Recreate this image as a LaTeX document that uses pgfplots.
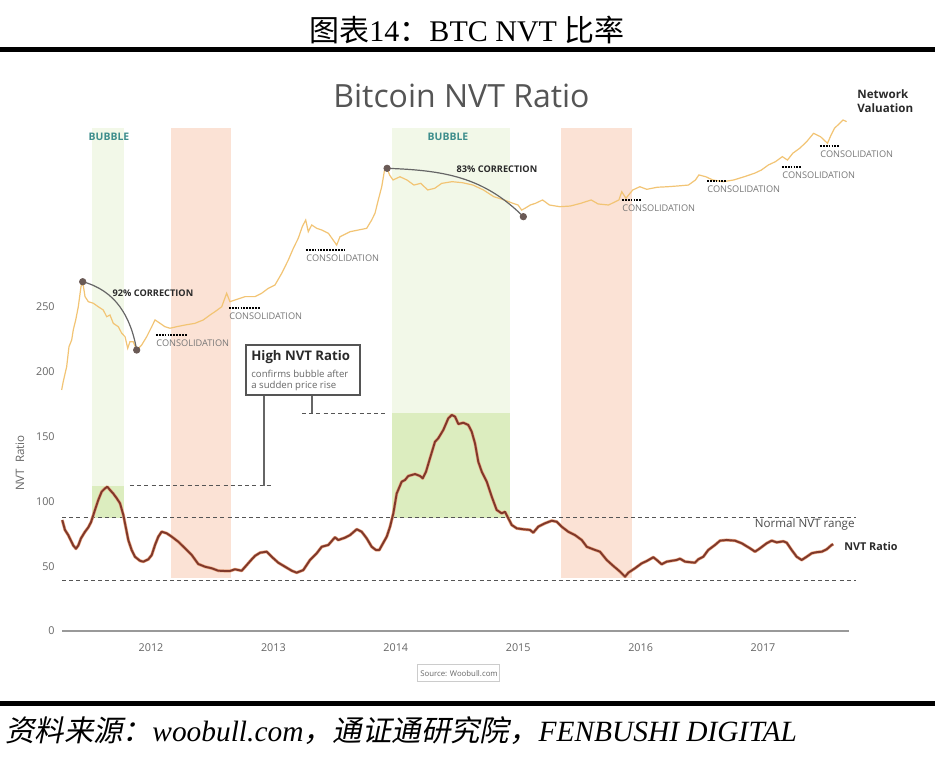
\documentclass[border=0pt]{standalone}
\usepackage{pgfplots}
\pgfplotsset{compat=1.18}
\usepackage{fontspec}
\setmainfont{Open Sans}
\newfontfamily\tnr{Liberation Serif}
\newfontfamily\cjk{Noto Sans CJK SC}
\newfontfamily\cjkit{Noto Sans CJK SC}[FakeSlant=0.2]
\newcommand{\fs}[1]{\fontsize{#1bp}{#1bp}\selectfont}
\definecolor{greenpale}{HTML}{F2F8E8}
\definecolor{greendark}{HTML}{DCEDBF}
\definecolor{bandred}{HTML}{FBE2D5}
\definecolor{nvtc}{HTML}{80382A}
\definecolor{nvtglow}{HTML}{E8A582}
\definecolor{valc}{HTML}{F2C474}
\definecolor{tealc}{HTML}{3E8E8C}
\definecolor{tickgray}{HTML}{666666}
\definecolor{axisgray}{HTML}{999999}
\definecolor{darkc}{HTML}{2A2A2A}
\definecolor{dashc}{HTML}{555555}
\definecolor{dotc}{HTML}{6A5A56}
\definecolor{consc}{HTML}{777777}
\begin{document}
\begin{tikzpicture}
\path[use as bounding box, fill=white] (0,0) rectangle (467.5bp,379.5bp);
\begin{axis}[
  scale only axis, width=393.5bp, height=285.5bp,
  at={(31bp,64bp)}, anchor=south west,
  xmin=2011.2729, xmax=2017.7026, ymin=0, ymax=440.59,
  clip=false,
  axis x line*=bottom, axis y line*=left,
  x axis line style={draw=axisgray, line width=0.75bp, -},
  y axis line style={draw=none},
  major tick length=0pt,
  xtick={2012,2013,2014,2015,2016,2017},
  ytick={0,50,100,150,200,250},
  /pgf/number format/assume math mode=true,
  /pgf/number format/1000 sep={},
  xticklabel style={anchor=center, yshift=-8.5bp, font=\fs{5.4}, text=tickgray},
  yticklabel style={anchor=east, inner sep=0pt, xshift=-3.5bp, font=\fs{5.4}, text=tickgray},
]
% bands
\addplot[fill=greenpale, draw=none] coordinates {(2011.522,111.9) (2011.779,111.9) (2011.779,388.1) (2011.522,388.1)} --cycle;
\addplot[fill=greendark, draw=none] coordinates {(2011.522,87.2) (2011.779,87.2) (2011.779,111.9) (2011.522,111.9)} --cycle;
\addplot[fill=bandred, draw=none] coordinates {(2012.167,41) (2012.654,41) (2012.654,388.1) (2012.167,388.1)} --cycle;
\addplot[fill=greenpale, draw=none] coordinates {(2013.973,168.2) (2014.933,168.2) (2014.933,388.1) (2013.973,388.1)} --cycle;
\addplot[fill=greendark, draw=none] coordinates {(2013.973,87.2) (2014.933,87.2) (2014.933,168.2) (2013.973,168.2)} --cycle;
\addplot[fill=bandred, draw=none] coordinates {(2015.350,41) (2015.926,41) (2015.926,388.1) (2015.350,388.1)} --cycle;
% normal range lines
\addplot[dashc, line width=0.5bp, dash pattern=on 2bp off 1.6bp] coordinates {(2011.273,87.5) (2017.760,87.5)};
\addplot[dashc, line width=0.5bp, dash pattern=on 2bp off 1.6bp] coordinates {(2011.273,39.3) (2017.760,39.3)};
% high NVT levels
\addplot[dashc, line width=0.5bp, dash pattern=on 2bp off 1.6bp] coordinates {(2011.828,112) (2012.997,112)};
\addplot[dashc, line width=0.5bp, dash pattern=on 2bp off 1.6bp] coordinates {(2013.234,168.2) (2013.916,168.2)};
% network valuation
\addplot[valc, line width=0.6bp] table {
2011.270 186.0
2011.283 192.4
2011.311 203.9
2011.330 219.4
2011.352 224.5
2011.365 232.3
2011.385 240.0
2011.406 250.2
2011.428 265.7
2011.442 269.5
2011.461 258.0
2011.488 254.1
2011.529 252.9
2011.569 250.2
2011.610 247.7
2011.638 242.5
2011.665 243.8
2011.692 237.4
2011.733 234.8
2011.761 229.7
2011.788 227.1
2011.810 218.1
2011.828 223.2
2011.855 223.2
2011.883 216.8
2011.924 220.7
2011.965 227.1
2012.006 234.8
2012.033 240.0
2012.074 237.4
2012.114 234.8
2012.155 233.6
2012.210 234.8
2012.278 236.1
2012.359 237.4
2012.427 240.0
2012.482 243.8
2012.523 246.4
2012.578 250.2
2012.618 260.6
2012.645 254.1
2012.686 255.4
2012.768 258.0
2012.850 258.0
2012.904 260.6
2012.958 264.4
2013.013 267.0
2013.068 276.0
2013.122 286.3
2013.163 295.3
2013.203 303.0
2013.236 312.0
2013.264 317.1
2013.285 308.1
2013.313 313.3
2013.354 310.7
2013.395 309.4
2013.449 306.9
2013.517 297.8
2013.544 304.2
2013.626 308.1
2013.694 309.4
2013.762 310.7
2013.803 317.1
2013.830 322.3
2013.857 332.6
2013.885 342.8
2013.908 355.7
2013.929 357.0
2013.949 351.9
2013.977 348.0
2014.034 350.5
2014.091 348.0
2014.148 344.1
2014.204 345.4
2014.261 340.3
2014.318 341.6
2014.375 345.4
2014.460 346.7
2014.545 345.9
2014.630 344.1
2014.716 340.3
2014.801 335.1
2014.886 332.6
2014.957 330.0
2014.999 328.7
2015.028 324.8
2015.056 326.2
2015.099 328.7
2015.141 330.0
2015.199 332.6
2015.255 328.7
2015.340 327.4
2015.426 327.9
2015.511 330.0
2015.596 332.6
2015.653 329.5
2015.738 328.7
2015.823 332.6
2015.846 339.0
2015.880 333.9
2015.936 340.3
2015.994 342.8
2016.050 340.8
2016.136 342.4
2016.221 342.8
2016.306 343.4
2016.391 344.1
2016.448 348.0
2016.476 351.9
2016.533 350.5
2016.590 348.0
2016.675 346.7
2016.760 348.0
2016.846 350.5
2016.931 353.2
2016.987 355.7
2017.044 359.6
2017.101 362.1
2017.158 366.0
2017.200 363.4
2017.243 368.6
2017.300 372.5
2017.356 377.5
2017.413 384.0
2017.470 381.4
2017.527 376.3
2017.556 382.7
2017.584 387.9
2017.626 391.7
2017.654 394.3
2017.683 393.0
};
% NVT ratio
\pgfplotstableread{
x y
2011.275 85.6
2011.297 78
2011.324 74
2011.365 66
2011.387 63.5
2011.406 66
2011.428 71.5
2011.461 76.6
2011.488 80
2011.510 84
2011.529 89.5
2011.542 93.4
2011.569 101
2011.597 107.5
2011.624 110
2011.643 111.3
2011.665 108.8
2011.692 106
2011.720 102.4
2011.747 98.5
2011.774 89.5
2011.793 80.5
2011.815 70
2011.842 62.5
2011.869 57.3
2011.910 54.2
2011.937 53.5
2011.978 55.3
2012.006 58.6
2012.033 66.4
2012.060 72.8
2012.087 76.6
2012.128 75.4
2012.169 72.8
2012.223 68.9
2012.278 63.8
2012.333 58.6
2012.386 51.7
2012.441 49.6
2012.496 48.4
2012.550 46.5
2012.605 46.3
2012.645 46.3
2012.686 47.6
2012.741 46.5
2012.782 50.9
2012.823 55.3
2012.850 58
2012.891 60.4
2012.945 61.2
2012.986 57.3
2013.040 52.7
2013.095 49.6
2013.150 46.5
2013.190 45
2013.244 47
2013.299 54.8
2013.354 60
2013.395 65
2013.449 66.4
2013.503 72.3
2013.530 70.2
2013.585 72
2013.626 74
2013.681 78.5
2013.721 76.6
2013.762 71.5
2013.803 65
2013.838 62.5
2013.865 62.5
2013.898 68.1
2013.926 72.8
2013.953 80.5
2013.980 90.8
2014.007 106
2014.048 115.2
2014.075 116.5
2014.102 119.6
2014.157 121.1
2014.198 119.6
2014.220 117.8
2014.247 123
2014.279 133.2
2014.320 146
2014.347 148.7
2014.388 155.1
2014.429 164.1
2014.457 166.7
2014.484 165.4
2014.511 159.7
2014.552 160.7
2014.592 159
2014.620 153.8
2014.647 144.8
2014.674 130.6
2014.702 123
2014.743 115.2
2014.784 103.6
2014.824 93.4
2014.865 90.8
2014.892 92
2014.919 87
2014.947 81.8
2014.988 79.2
2015.042 78.5
2015.096 78
2015.123 75.9
2015.164 80.5
2015.219 83.1
2015.274 85.1
2015.315 84.3
2015.355 80.5
2015.409 76.6
2015.464 74
2015.519 70.2
2015.560 65
2015.614 63
2015.668 61.2
2015.723 54.8
2015.777 50.2
2015.832 45.8
2015.873 41.9
2015.900 45
2015.954 48.4
2016.009 52.2
2016.050 54
2016.104 56.9
2016.132 54.8
2016.172 51.5
2016.213 53.5
2016.295 54.8
2016.322 55.8
2016.363 53.5
2016.444 52.7
2016.471 55.3
2016.512 57.3
2016.553 62.5
2016.608 66.4
2016.649 69.7
2016.703 70.2
2016.771 69.7
2016.826 67.7
2016.894 63.8
2016.935 61.2
2016.975 63.8
2017.030 67.7
2017.071 69.7
2017.112 68.4
2017.166 69.2
2017.194 68.1
2017.234 62.5
2017.275 57.3
2017.316 54.8
2017.357 57.3
2017.398 60
2017.439 60.8
2017.480 61.2
2017.520 63
2017.561 66.4
2017.574 66.9
}\nvtdata
\addplot[nvtglow, line width=1.55bp, line join=round] table {\nvtdata};
\addplot[nvtc, line width=0.95bp, line join=round] table {\nvtdata};
% correction arcs and dots
\draw[tickgray, line width=0.6bp] (axis cs:2011.442,269.5) to[out=-15,in=100] (axis cs:2011.883,216.8);
\draw[tickgray, line width=0.6bp] (axis cs:2013.929,357.0) to[out=-2,in=135] (axis cs:2015.042,319.7);
\addplot[only marks, mark=*, mark size=1.6bp, mark options={fill=dotc, draw=dotc}] coordinates {(2011.442,269.5) (2011.883,216.8) (2013.929,357.0) (2015.042,319.7)};
\end{axis}
\begin{scope}[x=0.5bp, y=-0.5bp, yshift=379.5bp]
% header and footer
\node[font=\fs{15}] at (467,30) {{\cjk 图表}{\tnr 14}{\cjk ：}{\tnr BTC NVT }{\cjk 比率}};
\fill[black] (0,47.5) rectangle (935,52.5);
\fill[black] (0,701.5) rectangle (935,706.5);
\node[anchor=west, font=\fs{14.7}, inner sep=0pt] at (5,731) {{\cjkit 资料来源：}{\tnr\itshape woobull.com}{\cjkit ，通证通研究院，}{\tnr\itshape FENBUSHI DIGITAL}};
% chart title
\node[font=\fs{16}, text=darkc!80] at (461.5,96) {Bitcoin NVT Ratio};
\node[anchor=north west, align=left, font=\bfseries\fontsize{5.8bp}{7bp}\selectfont, text=darkc, inner sep=0pt] at (857,89) {Network\\Valuation};
% bubble labels
\node[font=\bfseries\fs{5.2}, text=tealc] at (109,137) {BUBBLE};
\node[font=\bfseries\fs{5.2}, text=tealc] at (448,137) {BUBBLE};
\node[font=\bfseries\fs{4.6}, text=darkc] at (153,293) {92\% CORRECTION};
\node[font=\bfseries\fs{4.6}, text=darkc] at (497,169) {83\% CORRECTION};
% consolidations
\foreach \xa/\ya/\xb in {156/343/187, 229/316/260, 306/258/344, 622/208/641, 707/189/727, 782/175/801, 820/154/840}{
  \draw[black, line width=0.9bp, dash pattern=on 0.9bp off 0.55bp] (\xa,\ya-8) -- (\xb,\ya-8);
  \node[anchor=west, inner sep=0pt, font=\fs{4.6}, text=consc] at (\xa,\ya) {CONSOLIDATION};
}
% high NVT box
\draw[tickgray, line width=0.55bp] (264,395) -- (264,486);
\draw[tickgray, line width=0.55bp] (312,395) -- (312,413);
\draw[dashc, line width=0.55bp, fill=white] (246,345) rectangle (360,395);
\node[anchor=west, inner sep=0pt, font=\bfseries\fs{6.6}, text=darkc] at (251,357) {High NVT Ratio};
\node[anchor=west, inner sep=0pt, font=\fs{4.8}, text=tickgray] at (251,374) {confirms bubble after};
\node[anchor=west, inner sep=0pt, font=\fs{4.8}, text=tickgray] at (251,386) {a sudden price rise};
% legend-ish labels
\node[anchor=east, inner sep=0pt, font=\fs{5.8}, text=darkc!85] at (855,525) {Normal NVT range};
\node[anchor=west, inner sep=0pt, font=\bfseries\fs{5.4}, text=darkc] at (844,546) {NVT Ratio};
\node[rotate=90, font=\fs{5.8}, text=tickgray] at (20,463) {NVT\ \ Ratio};
% source box
\draw[black!20, line width=0.5bp] (418,665) rectangle (500,682);
\node[font=\fs{3.9}, text=tickgray] at (459,673.5) {Source: Woobull.com};
\end{scope}
\end{tikzpicture}
\end{document}
